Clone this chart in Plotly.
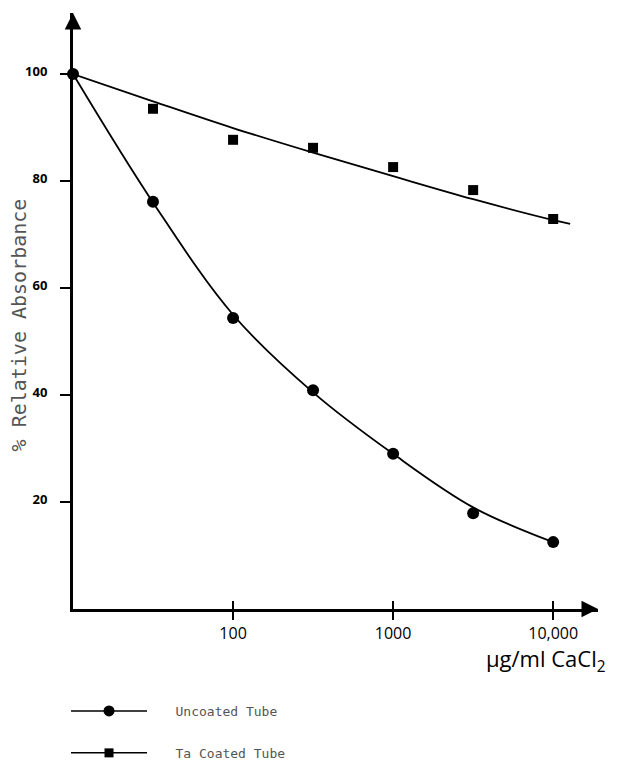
import plotly.graph_objects as go

# ---- data ----
conc = [10, 31.6, 100, 316, 1000, 3162, 10000]
uncoated_pts = [100, 76.1, 54.4, 40.9, 29.0, 17.9, 12.5]
ta_conc = [31.6, 100, 316, 1000, 3162, 10000]
ta_pts = [93.5, 87.7, 86.2, 82.6, 78.3, 72.9]

# fitted curves drawn by hand in the reference
uncoated_fit = [100, 76.0, 55.0, 40.5, 29.0, 19.0, 12.5]
ta_fit_conc = [10, 31.6, 100, 316, 1000, 3162, 10000, 12760]
ta_fit = [100, 94.9, 89.9, 85.3, 80.9, 76.6, 72.7, 72.0]

x_ticks = [100, 1000, 10000]
x_labels = ["100", "1000", "10,000"]
y_ticks = [20, 40, 60, 80, 100]
y_labels = ["20", "40", "60", "80", "100"]
legend_names = ["Uncoated Tube", "Ta Coated Tube"]

hand_font = "Open Sans"
mono_font = "DejaVu Sans Mono"
pad = "\u00a0" * 3

fig = go.Figure()

fig.add_trace(go.Scatter(x=conc, y=uncoated_fit, mode="lines",
                         line=dict(color="black", width=1.8, shape="spline"),
                         showlegend=False, hoverinfo="skip"))
fig.add_trace(go.Scatter(x=ta_fit_conc, y=ta_fit, mode="lines",
                         line=dict(color="black", width=1.8, shape="spline"),
                         showlegend=False, hoverinfo="skip"))
fig.add_trace(go.Scatter(x=conc, y=uncoated_pts, mode="markers",
                         marker=dict(symbol="circle", size=12, color="black"),
                         cliponaxis=False, showlegend=False))
fig.add_trace(go.Scatter(x=ta_conc, y=ta_pts, mode="markers",
                         marker=dict(symbol="square", size=10, color="black"),
                         cliponaxis=False, showlegend=False))

# legend entries
fig.add_trace(go.Scatter(x=[None], y=[None], mode="lines+markers",
                         name=pad + legend_names[0], legendgroup="a",
                         line=dict(color="black", width=1.5),
                         marker=dict(symbol="circle", size=11, color="black")))
fig.add_trace(go.Scatter(x=[None], y=[None], mode="lines+markers",
                         name=pad + legend_names[1], legendgroup="b",
                         line=dict(color="black", width=1.5),
                         marker=dict(symbol="square", size=9, color="black")))
# dummy trace for the crossing-tick overlay axis
fig.add_trace(go.Scatter(x=[None], y=[None], xaxis="x2", showlegend=False))

x_range = [1, 4.28]
fig.update_layout(
    width=628, height=752,
    paper_bgcolor="white", plot_bgcolor="white",
    margin=dict(l=65, r=38, t=5, b=151, autoexpand=False),
    showlegend=True,
    xaxis=dict(type="log", range=x_range, tickvals=x_ticks, ticktext=x_labels,
               showgrid=False, zeroline=False, showline=True, linecolor="black",
               linewidth=3, ticks="outside", ticklen=8, tickwidth=2,
               tickcolor="black", ticklabelstandoff=0,
               tickfont=dict(family=hand_font, size=16, color="black")),
    xaxis2=dict(type="log", range=x_range, tickvals=x_ticks, overlaying="x",
                anchor="y", side="bottom", showgrid=False, zeroline=False,
                showline=False, ticks="inside", ticklen=8, tickwidth=2,
                tickcolor="black", showticklabels=False),
    yaxis=dict(range=[0, 111.4], tickvals=y_ticks, ticktext=y_labels,
               showgrid=False, zeroline=False, showline=True, linecolor="black",
               linewidth=3, ticks="outside", ticklen=10, tickwidth=2,
               tickcolor="black", ticklabelstandoff=10, ticklabelshift=-3,
               tickfont=dict(family=hand_font, size=13, color="black",
                             weight="bold")),
    legend=dict(x=-0.0133, y=-0.146, xanchor="left", yanchor="top",
                tracegroupgap=22, itemwidth=76,
                font=dict(family=mono_font, size=13, color="#555555"),
                bgcolor="rgba(0,0,0,0)"),
    annotations=[
        dict(text="% Relative Absorbance", xref="paper", yref="paper",
             x=-0.102, y=0.4765, xanchor="center", yanchor="middle",
             textangle=-90, showarrow=False, borderpad=0,
             font=dict(family=mono_font, size=20, color="#555555")),
        dict(text="μg/ml CaCl<sub>2</sub>", xref="paper", yref="paper",
             x=1.019, y=-0.085, xanchor="right", yanchor="middle",
             showarrow=False,
             font=dict(family=hand_font, size=22, color="black")),
        dict(text="", xref="paper", yref="paper", x=1.0, y=0.0,
             ax=-14, ay=0, showarrow=True, arrowhead=2, arrowsize=1.1,
             arrowwidth=3, arrowcolor="black", standoff=0),
        dict(text="", xref="paper", yref="paper", x=0.0, y=1.0,
             ax=0, ay=14, showarrow=True, arrowhead=2, arrowsize=1.1,
             arrowwidth=3, arrowcolor="black", standoff=0),
    ],
)

fig.write_html("out.html")
